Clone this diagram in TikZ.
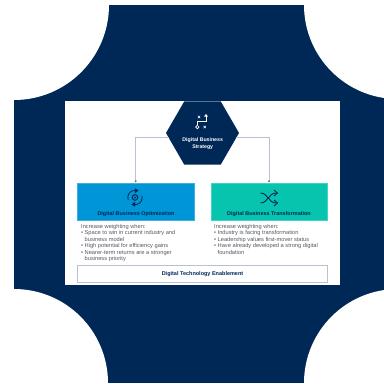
\documentclass[tikz,border=0pt]{standalone}
\usepackage{fontspec}
\setmainfont{Liberation Sans}
\usetikzlibrary{shapes.geometric,arrows.meta}
\definecolor{navy}{HTML}{002856}
\definecolor{linec}{HTML}{B9C1D3}
\definecolor{bluebox}{HTML}{0095D6}
\definecolor{tealbox}{HTML}{06C4AE}
\definecolor{txt}{HTML}{555A60}
\begin{document}
\begin{tikzpicture}[x=1pt,y=-1pt,
 head/.style={font=\bfseries\fontsize{5.45}{6}\selectfont,text=navy,inner sep=0pt},
 body/.style={font=\fontsize{5.7}{6.5}\selectfont,text=txt,inner sep=0pt,align=left,anchor=north west},
 conn/.style={draw=linec,line width=1pt,-{Latex[length=2pt,width=2.4pt,color=txt]}},
 panel/.style={draw=#1!75!white,fill=#1,line width=0.4pt,minimum width=116.5pt,minimum height=37.5pt,inner sep=0pt},
 iconw/.style={draw=white,line width=0.7pt},
 iconn/.style={draw=navy,line width=0.8pt}]
\useasboundingbox (0,0) rectangle (384,384);
\begin{scope}
\clip (0,0) rectangle (384,384);
\fill[navy] (14,5) rectangle (384,383);
\fill[white] (14,5) circle[radius=95];
\fill[white] (14,383) circle[radius=94];
\fill[white] (398,5) circle[radius=94];
\fill[white] (398,383) circle[radius=94];
\fill[white] (0,0) rectangle (14,384);
\end{scope}
\fill[white] (65,101) rectangle (340,285);
% hexagon and boxes
\node[regular polygon,regular polygon sides=6,fill=navy,inner sep=0pt,minimum size=73pt] (hex) at (202.5,133) {};
\node[panel=bluebox] (opt) at (135.7,201.5) {};
\node[panel=tealbox] (trans) at (269,201.5) {};
\node[draw=linec,line width=1pt,fill=white,minimum width=250pt,minimum height=17.3pt,inner sep=0pt,
  font=\bfseries\fontsize{5.5}{6}\selectfont,text=navy] (enable) at (202.5,273.7) {Digital Technology Enablement};
% connectors
\coordinate (hl) at (168.7,137.7);
\coordinate (hr) at (236.3,137.7);
\draw[conn] (hl) -| (opt.north);
\draw[conn] (hr) -| (trans.north);
% hexagon text
\node[font=\bfseries\fontsize{5.2}{7}\selectfont,text=white,align=center,inner sep=0pt] (hextext) at (202.7,143.5) {Digital Business\\Strategy};
% panel titles
\node[head] (opttitle) at (136,214.3) {Digital Business Optimization};
\node[head] (transtitle) at (269,214.3) {Digital Business Transformation};
% body text
\node[body] (optbody) at (81,223.8) {Increase weighting when:\\
\makebox[3.5pt][l]{•}Space to win in current industry and\\
\hspace*{3.5pt}business model\\
\makebox[3.5pt][l]{•}High potential for efficiency gains\\
\makebox[3.5pt][l]{•}Nearer-term returns are a stronger\\
\hspace*{3.5pt}business priority};
\node[body] (transbody) at (214,223.8) {Increase weighting when:\\
\makebox[3.5pt][l]{•}Industry is facing transformation\\
\makebox[3.5pt][l]{•}Leadership values first-mover status\\
\makebox[3.5pt][l]{•}Have already developed a strong digital\\
\hspace*{3.5pt}foundation};
% strategy icon
\draw[iconw] (197.3,125.2) -- (197.3,121.3) -- (206,121.3) -- (206,116);
\fill[white] (204,116.6) -- (206,114) -- (208,116.6) -- cycle;
\draw[iconw] (197.3,127) circle[radius=1.7];
\draw[iconw,line width=0.6pt] (197.8,115.8) -- (200.2,118.2) (200.2,115.8) -- (197.8,118.2);
\draw[iconw,line width=0.6pt] (203.5,125.8) -- (205.9,128.2) (205.9,125.8) -- (203.5,128.2);
% refresh icon
\coordinate (rc) at (135,197.5);
\draw[iconn] (rc) ++(160:7.2) arc[start angle=160,end angle=285,radius=7.2];
\draw[iconn] (rc) ++(-15:7.2) arc[start angle=-15,end angle=105,radius=7.2];
\fill[navy] (138.6,190.5) -- (134.8,188.3) -- (135,193.2) -- cycle;
\fill[navy] (131.4,204.5) -- (135.2,206.7) -- (135,201.8) -- cycle;
\draw[navy,line width=1pt] (rc) circle[radius=2.8];
\fill[navy] (rc) circle[radius=1];
% shuffle icon
\draw[iconn,line width=0.9pt] (260.5,193) .. controls (268,193) and (268.5,203) .. (276,203);
\draw[iconn,line width=0.9pt] (260.5,203) .. controls (268,203) and (268.5,193) .. (276,193);
\draw[iconn,line width=0.9pt] (274,190) -- (277.5,193) -- (274,196);
\draw[iconn,line width=0.9pt] (274,200) -- (277.5,203) -- (274,206);
\end{tikzpicture}
\end{document}
